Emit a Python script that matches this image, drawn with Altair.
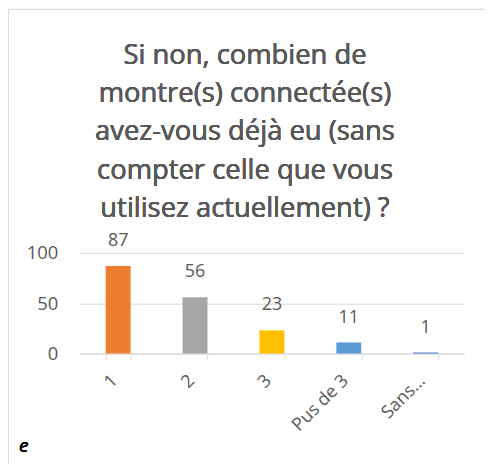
import altair as alt
import pandas as pd

categories = ["1", "2", "3", "Pus de 3", "Sans…"]
values = [87, 56, 23, 11, 1]
colors = ["#ED7D31", "#A5A5A5", "#FFC000", "#5B9BD5", "#4472C4"]
title_lines = [
    "Si non, combien de",
    "montre(s) connectée(s)",
    "avez-vous déjà eu (sans",
    "compter celle que vous",
    "utilisez actuellement) ?",
]

df = pd.DataFrame({"cat": categories, "val": values, "color": colors})

FONT = "Open Sans"
GREY = "#595959"

x = alt.X(
    "cat:N",
    sort=categories,
    title=None,
    scale=alt.Scale(paddingInner=0.676, paddingOuter=0.338),
    axis=alt.Axis(
        labelAngle=-45,
        labelFontSize=18,
        labelColor=GREY,
        labelFont=FONT,
        domainColor="#D9D9D9",
        tickColor="#D9D9D9",
        tickSize=6,
        tickBand="extent",
        labelPadding=12,
        labelOffset=-10,
        grid=False,
    ),
)
y = alt.Y(
    "val:Q",
    title=None,
    scale=alt.Scale(domain=[0, 100], nice=False),
    axis=alt.Axis(
        values=[0, 50, 100],
        labelFontSize=18.5,
        labelColor=GREY,
        labelFont=FONT,
        ticks=False,
        domain=False,
        gridColor="#D9D9D9",
        labelPadding=22,
    ),
)

bars = alt.Chart(df).mark_bar().encode(
    x=x, y=y, color=alt.Color("color:N", scale=None)
)
labels = alt.Chart(df).mark_text(
    fontSize=18, font=FONT, color=GREY, baseline="middle", dy=-25
).encode(x=alt.X("cat:N", sort=categories), y="val:Q", text="val:Q")

border = alt.Chart(df).mark_rect(
    fill=None, stroke="#D9D9D9", strokeWidth=1
).encode(
    x=alt.value(-71.5), x2=alt.value(430), y=alt.value(-244.5), y2=alt.value(230)
)
title = alt.Chart(df).mark_text(
    text="\n".join(title_lines), lineBreak="\n", lineHeight=38.5,
    fontSize=27.5, font=FONT, fontWeight=400, color=GREY, align="center",
    baseline="alphabetic",
).encode(x=alt.value(166), y=alt.value(-190))
note = alt.Chart(df).mark_text(
    text="e", fontSize=19, font=FONT, fontStyle="italic", fontWeight=400,
    color="#000000", align="left", baseline="middle",
).encode(x=alt.value(-61), y=alt.value(194))

chart = alt.layer(border, title, bars, labels, note).properties(
    width=386,
    height=101,
    autosize="none",
    padding={"left": 72, "top": 245, "right": 20, "bottom": 110},
).configure_view(stroke=None)

chart.save("out.html", embed_options={"renderer": "svg", "actions": False})
